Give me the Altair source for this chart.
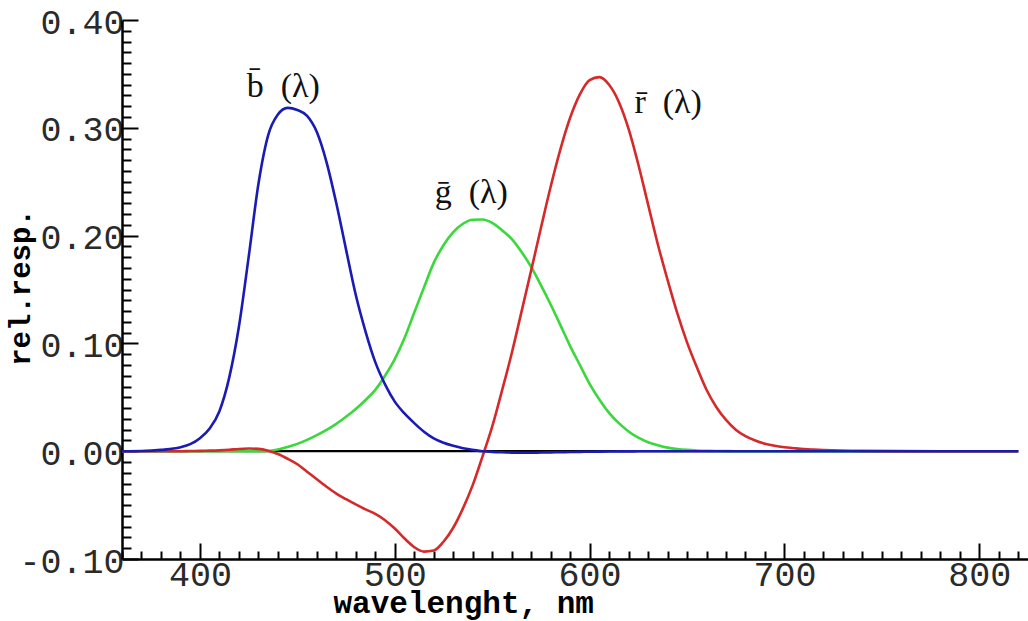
import altair as alt
import pandas as pd

# sample wavelengths (nm)
wavelengths = [360, 370, 380, 390] + list(range(395, 725, 5)) + [740, 760, 780, 800, 820]

b_bar = [0.0000, 0.0002, 0.0012, 0.0036,
         0.0065, 0.0121, 0.0210, 0.0371, 0.0680, 0.1154, 0.1800, 0.2477, 0.2930, 0.3123,
         0.3185, 0.3165, 0.3110, 0.2960, 0.2680, 0.2300, 0.1870, 0.1449, 0.1110, 0.0826,
         0.0620, 0.0460, 0.0350, 0.0260, 0.0180, 0.0118, 0.0078, 0.0050, 0.0028, 0.0013,
         0.0000, -0.0006, -0.0010, -0.0013, -0.0014, -0.0014, -0.0012, -0.0011, -0.0009, -0.0008,
         -0.0006, -0.0005, -0.0004, -0.0003, -0.0002, -0.0002, -0.0001, -0.0001, 0, 0,
         0, 0, 0, 0, 0, 0, 0, 0, 0, 0,
         0, 0, 0, 0, 0, 0,
         0, 0, 0, 0, 0]

g_bar = [0, 0, 0, 0,
         0, 0, 0, 0, 0, 0, 0, 0, 0.0002, 0.0015,
         0.0040, 0.0068, 0.0105, 0.0149, 0.0198, 0.0254, 0.0320, 0.0391, 0.0475, 0.0569,
         0.0700, 0.0854, 0.1050, 0.1286, 0.1520, 0.1747, 0.1910, 0.2032, 0.2110, 0.2147,
         0.2150, 0.2118, 0.2050, 0.1970, 0.1850, 0.1709, 0.1540, 0.1361, 0.1170, 0.0975,
         0.0800, 0.0625, 0.0480, 0.0356, 0.0260, 0.0183, 0.0125, 0.0083, 0.0055, 0.0033,
         0.0020, 0.0012, 0.0007, 0.0004, 0.0002, 0.0001, 0, 0, 0, 0,
         0, 0, 0, 0, 0, 0,
         0, 0, 0, 0, 0]

r_bar = [0, 0, 0, 0,
         0.0002, 0.0003, 0.0005, 0.0008, 0.0013, 0.0021, 0.0025, 0.0022, 0.0005, -0.0026,
         -0.0070, -0.0121, -0.0190, -0.0261, -0.0330, -0.0393, -0.0445, -0.0494, -0.0540, -0.0581,
         -0.0640, -0.0717, -0.0810, -0.0890, -0.0932, -0.0922, -0.0840, -0.0710, -0.0530, -0.0315,
         -0.0050, 0.0228, 0.0560, 0.0906, 0.1290, 0.1677, 0.2070, 0.2453, 0.2800, 0.3093,
         0.3310, 0.3443, 0.3470, 0.3400, 0.3240, 0.2990, 0.2660, 0.2290, 0.1920, 0.1590,
         0.1280, 0.1010, 0.0780, 0.0570, 0.0410, 0.0290, 0.0200, 0.0140, 0.0100, 0.0070,
         0.0050, 0.0037, 0.0028, 0.0020, 0.0015, 0.0011,
         0.0003, 0.0001, 0, 0, 0]

assert len(wavelengths) == len(b_bar) == len(g_bar) == len(r_bar)

# curve labels
label_text = ["b\u0304\u00a0\u00a0(\u03bb)", "g\u0304\u00a0\u00a0(\u03bb)", "r\u0304\u00a0\u00a0(\u03bb)"]
label_x = [424, 520.5, 623]
label_y = [0.329, 0.2306, 0.314]

x_label_values = [400, 500, 600, 700, 800]
y_label_values = [-0.1, 0.0, 0.1, 0.2, 0.3, 0.4]
x_tick_values = list(range(360, 830, 10))
y_tick_values = [round(-0.10 + 0.01 * i, 2) for i in range(51)]

W, H = 906, 539
xscale = alt.Scale(domain=[360, 825], nice=False, zero=False)
yscale = alt.Scale(domain=[-0.1, 0.4], nice=False, zero=False)

MONO = "Liberation Mono"

df_b = pd.DataFrame({"wl": wavelengths, "val": b_bar})
df_g = pd.DataFrame({"wl": wavelengths, "val": g_bar})
df_r = pd.DataFrame({"wl": wavelengths, "val": r_bar})
df_zero = pd.DataFrame({"x0": [360], "x1": [820], "y0": [0.0]})
df_lab = pd.DataFrame({"t": label_text, "x": label_x, "y": label_y})

axis_x_main = alt.Axis(
    orient="bottom", values=x_label_values, format="d", ticks=False, tickSize=0,
    grid=False, labelFont=MONO, labelFontSize=35, labelColor="#2a2a2a",
    labelPadding=-2, labelFlush=False, labelOverlap=False,
    domainColor="black", domainWidth=2.5,
    title="wavelenght, nm", titleFont=MONO, titleFontSize=31, titleFontWeight="bold",
    titleColor="black", titleAnchor="start", titleAlign="left", titleBaseline="alphabetic",
    titleX=211, titleY=53,
)
axis_y_main = alt.Axis(
    orient="left", values=y_label_values,
    labelExpr="(datum.value < 0 ? '-' : '') + format(abs(datum.value), '.2f')",
    ticks=False, tickSize=0, grid=False, labelFont=MONO, labelFontSize=35,
    labelColor="#2a2a2a", labelPadding=-2, labelOffset=2, labelFlush=False, labelOverlap=False,
    domainColor="black", domainWidth=2.5,
    title="rel.resp.", titleFont=MONO, titleFontSize=29, titleFontWeight="bold",
    titleColor="black", titleAngle=270, titleAlign="center", titleBaseline="middle",
    titleX=-102, titleY=267,
)
axis_x_ticks = alt.Axis(
    orient="top", offset=-H, values=x_tick_values, labels=False, domain=False,
    grid=False, title=None, tickColor="black", tickWidth=2,
    tickSize={"condition": {"test": "datum.value % 100 === 0", "value": 16}, "value": 8},
)
axis_y_ticks = alt.Axis(
    orient="right", offset=-W, values=y_tick_values, labels=False, domain=False,
    grid=False, title=None, tickColor="black", tickWidth=2,
    tickSize={"condition": {"test": "abs(datum.value*10 - round(datum.value*10)) < 0.001",
                            "value": 16}, "value": 9},
)

zero = alt.Chart(df_zero).mark_rule(color="black", strokeWidth=2.2).encode(
    x=alt.X("x0:Q", scale=xscale, axis=axis_x_ticks),
    x2="x1:Q",
    y=alt.Y("y0:Q", scale=yscale, axis=axis_y_ticks),
)


def curve(df, color, axes=False):
    return alt.Chart(df).mark_line(color=color, strokeWidth=2.6, interpolate="monotone").encode(
        x=alt.X("wl:Q", scale=xscale, axis=axis_x_main if axes else None),
        y=alt.Y("val:Q", scale=yscale, axis=axis_y_main if axes else None),
    )


green = curve(df_g, "#3ad83a", axes=True)
red = curve(df_r, "#d42a2a")
blue = curve(df_b, "#1a1ab4")

labels = alt.Chart(df_lab).mark_text(
    align="left", baseline="alphabetic", font="Liberation Serif", fontSize=34, color="#111111"
).encode(
    x=alt.X("x:Q", scale=xscale, axis=None),
    y=alt.Y("y:Q", scale=yscale, axis=None),
    text="t:N",
)

chart = alt.layer(zero, green, red, blue, labels).resolve_axis(
    x="independent", y="independent"
).properties(
    width=W, height=H,
    autosize=alt.AutoSizeParams(type="none"),
    padding={"left": 122, "top": 20, "right": 0, "bottom": 62},
    background="white",
).configure_view(stroke=None)

chart.save("out.html", embed_options={"renderer": "svg", "actions": False})
